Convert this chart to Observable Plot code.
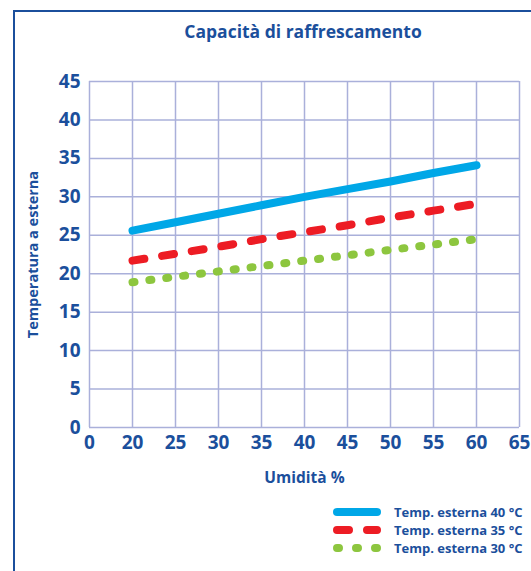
<!DOCTYPE html>
<html>
<head>
<meta charset="utf-8">
<script src="https://cdn.jsdelivr.net/npm/d3@7"></script>
<script src="https://cdn.jsdelivr.net/npm/@observablehq/plot@0.6"></script>
<style>
  body { margin: 0; background: #fff; font-family: "Open Sans", sans-serif; }
  #wrap { position: relative; width: 531px; height: 571px; overflow: hidden; }
  #frame { position: absolute; left: 13px; top: 10px; width: 600px; height: 700px;
           border-left: 2.5px solid #1b4f9c; border-top: 2.5px solid #1b4f9c; }
  #title { position: absolute; top: 19px; left: 82px; width: 442px; text-align: center;
           font-weight: 700; font-size: 17.5px; color: #1b4f9c; }
  #chart { position: absolute; left: 0; top: 0; }
  #chart g[aria-label="x-axis tick label"], #chart g[aria-label="y-axis tick label"] {
    font-size: 19px !important; font-weight: 700; }
  #chart g[aria-label="x-axis label"] { font-size: 15.5px !important; font-weight: 700; }
  #chart g[aria-label="y-axis label"] { font-size: 14.5px !important; font-weight: 700; }
  #legend { position: absolute; left: 333px; top: 503px; }
  .item { display: flex; align-items: center; height: 18px; }
  .item span { margin-left: 13px; font-weight: 700; font-size: 13px; color: #1b4f9c; white-space: nowrap; }
</style>
</head>
<body>
<div id="wrap">
  <div id="frame"></div>
  <div id="chart"></div>
  <div id="title">Capacità di raffrescamento</div>
  <div id="legend"></div>
</div>
<script>
const xTicks = [0, 20, 25, 30, 35, 40, 45, 50, 55, 60, 65];
const yTicks = [0, 5, 10, 15, 20, 25, 30, 35, 40, 45];
const humidity = [20, 25, 30, 35, 40, 45, 50, 55, 60];
const temp40 = [25.6, 26.7, 27.8, 28.9, 30.0, 31.0, 32.0, 33.1, 34.1];
const temp35 = [21.7, 22.6, 23.5, 24.5, 25.4, 26.3, 27.3, 28.2, 29.1];
const temp30 = [18.9, 19.6, 20.3, 21.0, 21.7, 22.4, 23.1, 23.8, 24.5];
const seriesNames = ["Temp. esterna 40 °C", "Temp. esterna 35 °C", "Temp. esterna 30 °C"];
const colors = ["#00a7e7", "#ed1c24", "#8dc63f"];
const dashes = [null, "12,18", "2,15"];

const seriesValues = [temp40, temp35, temp30];
const data = seriesValues.flatMap((vals, i) =>
  humidity.map((h, j) => ({ h, t: vals[j], s: seriesNames[i] })));

const textColor = "#1b4f9c";
const gridColor = "#aab0da";

const chart = Plot.plot({
  width: 531,
  height: 500,
  marginLeft: 89,
  marginRight: 12,
  marginTop: 81,
  marginBottom: 73,
  style: { fontFamily: "Open Sans, sans-serif", background: "transparent", overflow: "visible" },
  x: { type: "point", domain: xTicks, padding: 0, label: null },
  y: { domain: [0, 45], ticks: yTicks, label: null },
  marks: [
    Plot.ruleX(xTicks, { stroke: gridColor, strokeWidth: 1.5 }),
    Plot.ruleY(yTicks, { stroke: gridColor, strokeWidth: 1.5 }),
    ...seriesNames.map((name, i) =>
      Plot.line(data.filter(d => d.s === name), {
        x: "h", y: "t", stroke: colors[i], strokeWidth: 8,
        strokeLinecap: "round", strokeDasharray: dashes[i]
      })),
    Plot.axisX(xTicks, { tickSize: 0, tickPadding: 8, fill: textColor,
      label: "Umidità %", labelArrow: "none", labelAnchor: "center", labelOffset: 55 }),
    Plot.axisY(yTicks, { tickSize: 0, tickPadding: 9, fill: textColor,
      label: "Temperatura a esterna", labelArrow: "none", labelAnchor: "center", labelOffset: 62 })
  ]
});
chart.querySelectorAll("g[aria-label$='axis label'] text").forEach(t => t.setAttribute("fill", textColor));
document.getElementById("chart").appendChild(chart);

const legend = document.getElementById("legend");
seriesNames.forEach((name, i) => {
  const item = document.createElement("div");
  item.className = "item";
  const sw = d3.create("svg").attr("width", 48).attr("height", 18);
  sw.append("line").attr("x1", 4).attr("x2", 44).attr("y1", 9).attr("y2", 9)
    .attr("stroke", colors[i]).attr("stroke-width", 8).attr("stroke-linecap", "round")
    .attr("stroke-dasharray", dashes[i] ? (i === 1 ? "12,18" : "2,17") : null);
  item.appendChild(sw.node());
  const sp = document.createElement("span");
  sp.textContent = name;
  item.appendChild(sp);
  legend.appendChild(item);
});
</script>
</body>
</html>
